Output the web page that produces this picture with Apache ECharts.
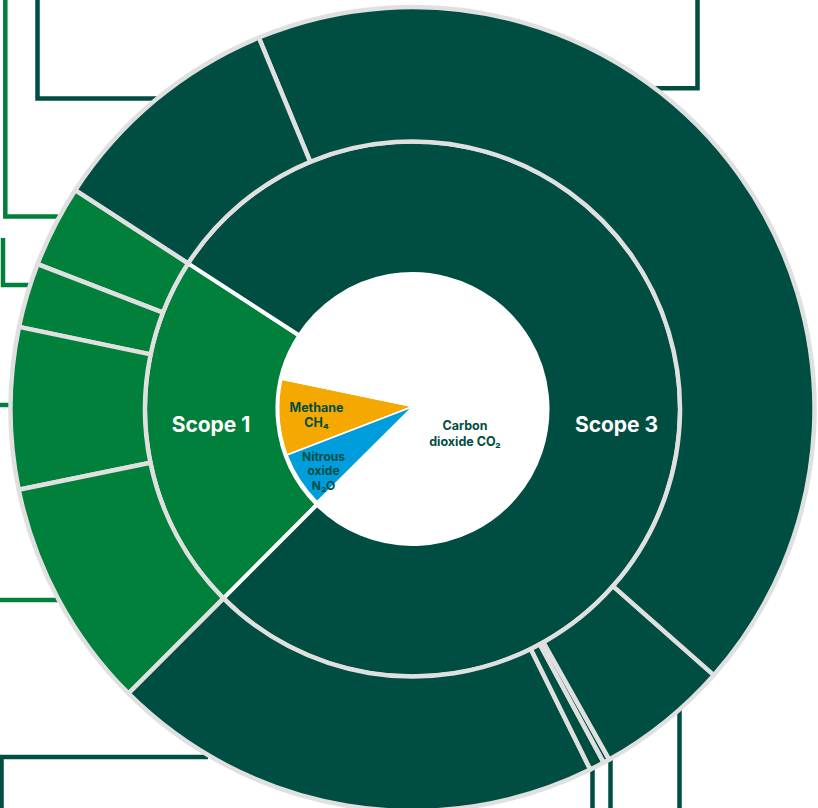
<!DOCTYPE html>
<html><head><meta charset="utf-8">
<script src="https://cdn.jsdelivr.net/npm/echarts@6/dist/echarts.min.js"></script>
<style>html,body{margin:0;padding:0;background:#fff;overflow:hidden}#c{width:818px;height:808px}</style>
</head><body><div id="c"></div>
<script>
// ---- data (shares of total emissions, %) ----
const scopeNames = ['Scope 1', 'Scope 3'];
const scope1Categories = ['Scope 1 – A', 'Scope 1 – B', 'Scope 1 – C', 'Scope 1 – D'];
const scope1Values = [3.3, 2.6, 6.5, 9.3];
const scope3Categories = ['Scope 3 – A', 'Scope 3 – B', 'Scope 3 – C', 'Scope 3 – D', 'Scope 3 – E', 'Scope 3 – F'];
const scope3Values = [19.8, 0.6, 0.25, 5.35, 42.8, 9.6];
const gasNames = ['Methane CH₄', 'Nitrous oxide N₂O', 'Carbon dioxide CO₂'];
const gasValues = [9.1, 6.6, 84.3];

// ---- styles ----
const DARK = '#004e42', GREEN = '#00803a', ORANGE = '#f5a800', BLUE = '#009ddc', GRAY = '#e0e0e0';
const CENTER = [412.5, 409];
const FONT = 'Inter, "Open Sans", sans-serif';

const sum = a => a.reduce((s, v) => s + v, 0);
const outerData = scope1Categories.map((n, i) => ({ name: n, value: scope1Values[i], itemStyle: { color: GREEN } }))
  .concat(scope3Categories.map((n, i) => ({ name: n, value: scope3Values[i], itemStyle: { color: DARK } })));
const middleData = [
  { name: scopeNames[0], value: sum(scope1Values), itemStyle: { color: GREEN } },
  { name: scopeNames[1], value: sum(scope3Values), itemStyle: { color: DARK } }
];
const gasColors = [ORANGE, BLUE, '#ffffff'];
const gasData = gasNames.map((n, i) => ({ name: n, value: gasValues[i], itemStyle: { color: gasColors[i] } }));

function line(points, color) {
  return { type: 'polyline', z: 0, shape: { points }, style: { stroke: color, lineWidth: 4.5, fill: null } };
}
function txt(x, y, text, size, color, lh) {
  return { type: 'text', z: 100, x, y, style: { text, fill: color, font: `bold ${size}px ${FONT}`, lineHeight: lh || size * 1.2, align: 'center', verticalAlign: 'middle' } };
}

const chart = echarts.init(document.getElementById('c'), null, { renderer: 'svg' });
chart.setOption({
  animation: false,
  backgroundColor: '#ffffff',
  series: [
    {
      type: 'pie', name: 'Gases', center: [413, 406.5], radius: [0, 135],
      startAngle: 168.3, clockwise: false, silent: true,
      label: { show: false }, labelLine: { show: false },
      itemStyle: { borderColor: '#ffffff', borderWidth: 1.5 },
      data: gasData, z: 2
    },
    {
      type: 'pie', name: 'Scopes', center: CENTER, radius: [135, 267.5],
      startAngle: 147, clockwise: false, silent: true,
      label: { show: false }, labelLine: { show: false },
      itemStyle: { borderColor: '#ffffff', borderWidth: 4 },
      data: middleData, z: 3
    },
    {
      type: 'pie', name: 'Categories', center: CENTER, radius: [267.5, 402],
      startAngle: 147, clockwise: false, silent: true, minAngle: 0,
      label: { show: false }, labelLine: { show: false },
      itemStyle: { borderColor: GRAY, borderWidth: 4.5 },
      data: outerData, z: 4
    }
  ],
  graphic: [
    line([[37.5, 0], [37.5, 98.5], [160, 98.5]], DARK),
    line([[5.3, 0], [5.3, 216.5], [58, 216.5]], GREEN),
    line([[3, 238], [3, 285], [30, 285]], GREEN),
    line([[0, 405], [12, 405]], GREEN),
    line([[0, 600], [58, 600]], GREEN),
    line([[1.5, 808], [1.5, 757], [208, 757]], DARK),
    line([[697.5, 0], [697.5, 88.3], [655, 88.3]], DARK),
    line([[592.5, 808], [592.5, 765]], DARK),
    line([[610.5, 808], [610.5, 755]], DARK),
    line([[679.5, 808], [679.5, 708]], DARK),
    txt(211, 424.5, 'Scope 1', 21, '#ffffff'),
    txt(616.5, 424.5, 'Scope 3', 21, '#ffffff'),
    txt(316.5, 415, 'Methane\nCH₄', 12.5, DARK, 15),
    txt(323.5, 470.5, 'Nitrous\noxide\nN₂O', 12, DARK, 14.5),
    txt(465, 433, 'Carbon\ndioxide CO₂', 12.5, DARK, 16)
  ]
});
</script></body></html>
